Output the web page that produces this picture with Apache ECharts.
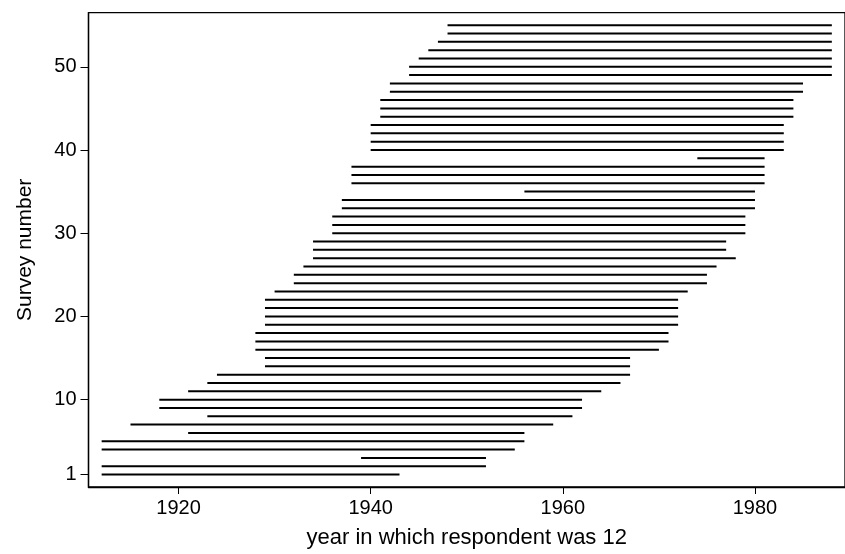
<!DOCTYPE html>
<html>
<head>
<meta charset="utf-8">
<script src="https://cdn.jsdelivr.net/npm/echarts@6/dist/echarts.min.js"></script>
<style>
  html, body { margin: 0; padding: 0; background: #fff; }
  #chart { width: 845px; height: 554px; }
</style>
</head>
<body>
<div id="chart"></div>
<script>
// Survey coverage: for each survey, the span of years in which respondents were aged 12
const surveyNumber = [
  1, 2, 3, 4, 5, 6, 7, 8, 9, 10,
  11, 12, 13, 14, 15, 16, 17, 18, 19, 20,
  21, 22, 23, 24, 25, 26, 27, 28, 29, 30,
  31, 32, 33, 34, 35, 36, 37, 38, 39, 40,
  41, 42, 43, 44, 45, 46, 47, 48, 49, 50,
  51, 52, 53, 54, 55
];
const startYear = [
  1912, 1912, 1939, 1912, 1912, 1921, 1915, 1923, 1918, 1918,
  1921, 1923, 1924, 1929, 1929, 1928, 1928, 1928, 1929, 1929,
  1929, 1929, 1930, 1932, 1932, 1933, 1934, 1934, 1934, 1936,
  1936, 1936, 1937, 1937, 1956, 1938, 1938, 1938, 1974, 1940,
  1940, 1940, 1940, 1941, 1941, 1941, 1942, 1942, 1944, 1944,
  1945, 1946, 1947, 1948, 1948
];
const endYear = [
  1943, 1952, 1952, 1955, 1956, 1956, 1959, 1961, 1962, 1962,
  1964, 1966, 1967, 1967, 1967, 1970, 1971, 1971, 1972, 1972,
  1972, 1972, 1973, 1975, 1975, 1976, 1978, 1977, 1977, 1979,
  1979, 1979, 1980, 1980, 1980, 1981, 1981, 1981, 1981, 1983,
  1983, 1983, 1983, 1984, 1984, 1984, 1985, 1985, 1988, 1988,
  1988, 1988, 1988, 1988, 1988
];
const yTickValues = [1, 10, 20, 30, 40, 50];
const xTickValues = [1920, 1940, 1960, 1980];

const spans = surveyNumber.map((s, i) => [startYear[i], endYear[i], s]);

const fontFamily = '"Liberation Sans", Arial, Helvetica, sans-serif';
const chart = echarts.init(document.getElementById('chart'), null, { renderer: 'canvas' });

chart.setOption({
  animation: false,
  backgroundColor: '#ffffff',
  grid: {
    left: 88.5,
    top: 12.7,
    bottom: 62,
    right: -12.5,
    show: true,
    borderColor: '#000',
    borderWidth: 1.3,
    backgroundColor: '#ffffff'
  },
  xAxis: {
    type: 'value',
    min: 1910.63,
    max: 1989.37,
    name: 'year in which respondent was 12',
    nameLocation: 'middle',
    nameGap: 40,
    nameTextStyle: { color: '#000', fontSize: 22, fontFamily: fontFamily },
    splitLine: { show: false },
    axisLine: { show: true, onZero: false, lineStyle: { color: '#000', width: 1.3 } },
    axisTick: { show: true, inside: false, length: 7, customValues: xTickValues, lineStyle: { color: '#000', width: 1 } },
    axisLabel: {
      customValues: xTickValues,
      formatter: (v) => String(v),
      color: '#000', fontSize: 20, fontFamily: fontFamily, margin: 11
    }
  },
  yAxis: {
    type: 'value',
    min: -0.5,
    max: 56.5,
    name: 'Survey number',
    nameLocation: 'middle',
    nameGap: 53,
    nameTextStyle: { color: '#000', fontSize: 21, fontFamily: fontFamily },
    splitLine: { show: false },
    axisLine: { show: true, onZero: false, lineStyle: { color: '#000', width: 1.3 } },
    axisTick: { show: true, inside: false, length: 8, customValues: yTickValues, lineStyle: { color: '#000', width: 1 } },
    axisLabel: {
      customValues: yTickValues,
      formatter: (v) => String(v),
      color: '#000', fontSize: 20, fontFamily: fontFamily, margin: 12
    }
  },
  series: [{
    type: 'custom',
    data: spans,
    encode: { x: [0, 1], y: 2 },
    renderItem: function (params, api) {
      const a = api.coord([api.value(0), api.value(2)]);
      const b = api.coord([api.value(1), api.value(2)]);
      return {
        type: 'line',
        shape: { x1: a[0], y1: a[1], x2: b[0], y2: b[1] },
        style: { stroke: '#000', lineWidth: 2 }
      };
    }
  }]
});
</script>
</body>
</html>
